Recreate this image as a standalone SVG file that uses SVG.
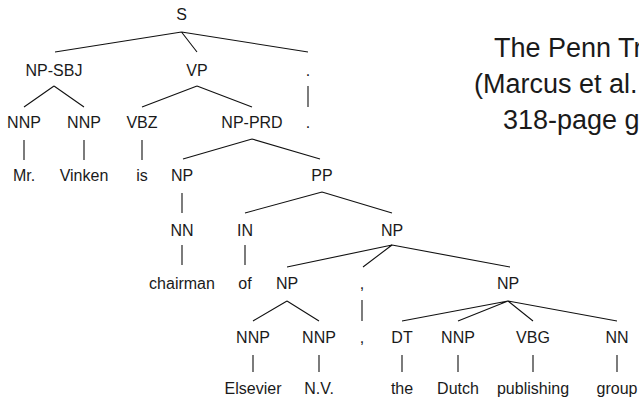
<svg xmlns="http://www.w3.org/2000/svg" width="639" height="398" viewBox="0 0 639 398">
  <style>
    .t { font-family: "Liberation Sans", Arial, sans-serif; font-size: 16px; fill: #1a1a1a; text-anchor: middle; }
    .title { font-family: "Liberation Sans", Arial, sans-serif; font-size: 27px; fill: #1a1a1a; }
    .e { stroke: #111; stroke-width: 1.1; fill: none; }
  </style>
  <rect width="639" height="398" fill="#fff"/>

  <!-- tree edges -->
  <g id="connectors" class="e">
    <path d="M181.5,32 L55,52 M181.5,32 L197,52 M181.5,32 L308,52"/>
    <path d="M54,86 L24,107 M54,86 L84,107"/>
    <path d="M197,86 L142,107 M197,86 L252,107"/>
    <path d="M308,86 V107"/>
    <path d="M24,140 V160 M84,140 V160 M142,140 V160"/>
    <path d="M252,139 L183,159 M252,139 L320,159"/>
    <path d="M182,193 V213"/>
    <path d="M322,192 L245,213 M322,192 L392,213"/>
    <path d="M182,245 V265 M245,245 V265"/>
    <path d="M392,245 L287,267 M392,245 L363,267 M392,245 L510,267"/>
    <path d="M287,301 L253,321 M287,301 L319,321"/>
    <path d="M362,300 V321"/>
    <path d="M508,301 L402,321 M508,301 L458,321 M508,301 L533,321 M508,301 L617,321"/>
    <path d="M253,355 V372 M319,355 V372 M402,355 V372 M458,355 V372 M533,355 V372 M617,355 V372"/>
  </g>

  <!-- nodes -->
  <g id="n-S"><text class="t" x="181.5" y="20">S</text></g>
  <g id="n-NP-SBJ"><text class="t" x="54" y="76">NP-SBJ</text></g>
  <g id="n-VP"><text class="t" x="197" y="76">VP</text></g>
  <g id="n-period"><text class="t" x="308" y="76">.</text></g>

  <g id="n-NNP-1"><text class="t" x="24" y="128">NNP</text></g>
  <g id="n-NNP-2"><text class="t" x="84" y="128">NNP</text></g>
  <g id="n-VBZ"><text class="t" x="142" y="128">VBZ</text></g>
  <g id="n-NP-PRD"><text class="t" x="252" y="128">NP-PRD</text></g>
  <g id="n-period-leaf"><text class="t" x="308" y="128">.</text></g>

  <g id="w-Mr"><text class="t" x="24" y="181">Mr.</text></g>
  <g id="w-Vinken"><text class="t" x="84" y="181">Vinken</text></g>
  <g id="w-is"><text class="t" x="142" y="181">is</text></g>
  <g id="n-NP-1"><text class="t" x="182" y="181">NP</text></g>
  <g id="n-PP"><text class="t" x="322" y="181">PP</text></g>

  <g id="n-NN-1"><text class="t" x="182" y="236">NN</text></g>
  <g id="n-IN"><text class="t" x="245" y="236">IN</text></g>
  <g id="n-NP-2"><text class="t" x="392" y="236">NP</text></g>

  <g id="w-chairman"><text class="t" x="182" y="289">chairman</text></g>
  <g id="w-of"><text class="t" x="245" y="289">of</text></g>
  <g id="n-NP-3"><text class="t" x="287" y="289">NP</text></g>
  <g id="n-comma"><text class="t" x="362" y="289">,</text></g>
  <g id="n-NP-4"><text class="t" x="508" y="289">NP</text></g>

  <g id="n-NNP-3"><text class="t" x="253" y="343">NNP</text></g>
  <g id="n-NNP-4"><text class="t" x="319" y="343">NNP</text></g>
  <g id="n-comma-leaf"><text class="t" x="362" y="343">,</text></g>
  <g id="n-DT"><text class="t" x="402" y="343">DT</text></g>
  <g id="n-NNP-5"><text class="t" x="458" y="343">NNP</text></g>
  <g id="n-VBG"><text class="t" x="533" y="343">VBG</text></g>
  <g id="n-NN-2"><text class="t" x="617" y="343">NN</text></g>

  <g id="w-Elsevier"><text class="t" x="253" y="394">Elsevier</text></g>
  <g id="w-NV"><text class="t" x="319" y="394">N.V.</text></g>
  <g id="w-the"><text class="t" x="402" y="394">the</text></g>
  <g id="w-Dutch"><text class="t" x="458" y="394">Dutch</text></g>
  <g id="w-publishing"><text class="t" x="533" y="394">publishing</text></g>
  <g id="w-group"><text class="t" x="617" y="394">group</text></g>

  <!-- caption on the right, runs off the edge -->
  <g id="caption">
    <text class="title" x="494" y="57">The Penn Tr</text>
    <text class="title" x="474" y="93">(Marcus et al.</text>
    <text class="title" x="503" y="129">318-page g</text>
  </g>
</svg>
